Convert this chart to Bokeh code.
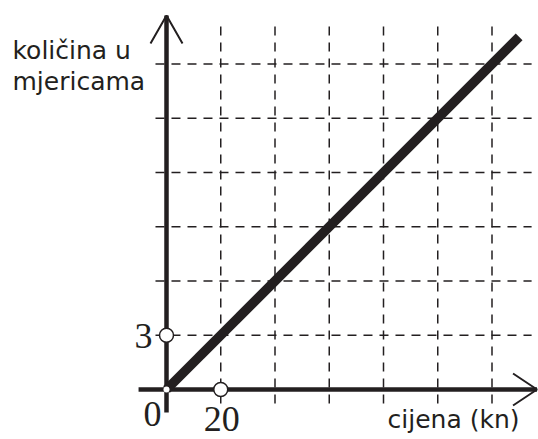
from bokeh.plotting import figure
from bokeh.models import Range1d, Label, GlobalInlineStyleSheet
from bokeh.core.properties import value
from bokeh.embed import file_html
from bokeh.resources import INLINE

# ---- data ----
price = [0, 130]            # cijena (kn)
quantity = [0, 19.5]        # količina u mjericama
grid_x = [20, 40, 60, 80, 100, 120]
grid_y = [3, 6, 9, 12, 15, 18]
marked_x = [20, 0]
marked_y = [0, 3]
tick_labels = ["0", "20", "3"]
tick_x = [0, 20, 0]
tick_y = [0, 0, 3]

# axis extents (data units)
x_axis_min, x_axis_max = -10.3, 136.6
y_axis_min, y_axis_max = -1.27, 20.68
hgrid_min, hgrid_max = -4.06, 134.6
vgrid_min, vgrid_max = -0.77, 20.24

W, H = 538, 439
px_x = 54.25 / 20.0   # pixels per unit x
px_y = 54.25 / 3.0    # pixels per unit y
ox, oy = 166, 389     # origin in canvas pixels (top-left based)

x_start = -ox / px_x
x_end = x_start + W / px_x
y_end = oy / px_y
y_start = -(H - oy) / px_y

INK = "#231f20"

p = figure(width=W, height=H, output_backend="svg", toolbar_location=None,
           x_range=Range1d(x_start, x_end), y_range=Range1d(y_start, y_end),
           min_border=0)
p.stylesheets = [GlobalInlineStyleSheet(css="html, body { margin: 0; padding: 0; overflow: hidden; }")]
p.axis.visible = False
p.grid.visible = False
p.outline_line_color = None
p.background_fill_color = "white"
p.border_fill_color = "white"

# dashed grid
p.segment(x0=grid_x, y0=[vgrid_min] * len(grid_x), x1=grid_x, y1=[vgrid_max] * len(grid_x),
          line_color=INK, line_width=1.5, line_dash="9 7")
p.segment(x0=[hgrid_min] * len(grid_y), y0=grid_y, x1=[hgrid_max] * len(grid_y), y1=grid_y,
          line_color=INK, line_width=1.5, line_dash="9 7")

# axes
p.segment(x0=[x_axis_min], y0=[0], x1=[x_axis_max], y1=[0], line_color=INK, line_width=4.5)
p.segment(x0=[0], y0=[y_axis_min], x1=[0], y1=[y_axis_max], line_color=INK, line_width=4.5)

# arrowheads (open V)
back_px, half_px = 28, 16
ya_back = back_px / px_y
ya_half = half_px / px_x
xa_back = (back_px - 4) / px_x
xa_half = half_px / px_y
p.multi_line(xs=[[-ya_half, 0, ya_half]], ys=[[y_axis_max - ya_back, y_axis_max, y_axis_max - ya_back]],
             line_color=INK, line_width=2)
p.multi_line(xs=[[x_axis_max - xa_back, x_axis_max, x_axis_max - xa_back]], ys=[[xa_half, 0, -xa_half]],
             line_color=INK, line_width=2)

# data line
p.line(price, quantity, line_color=INK, line_width=9.5, line_cap="butt")

# marked points
p.scatter(marked_x, marked_y, size=14, fill_color="white", line_color=INK, line_width=1.5)
p.scatter([price[0]], [quantity[0]], size=6, fill_color="white", line_color=None)

# tick labels
serif = value("Liberation Serif")
for i, (dx, dy, align) in enumerate([(-14, 24, "center"), (1, 29, "center"), (-14, 1, "right")]):
    p.text(x=[tick_x[i]], y=[tick_y[i]], text=[tick_labels[i]], x_offset=dx, y_offset=dy,
           text_align=align, text_baseline="alphabetic", text_font=serif,
           text_font_size="36px", text_color=INK)

# axis titles
sans = "DejaVu Sans"
for txt, sx, sy, align in [("količina u", 12, H - 50, "left"),
                           ("mjericama", 12, H - 81, "left"),
                           ("cijena (kn)", 519, H - 419, "right")]:
    p.add_layout(Label(x=sx, y=sy, x_units="screen", y_units="screen", text=txt,
                       text_font=sans, text_font_size="25px", text_color=INK,
                       text_align=align, text_baseline="alphabetic"))

open("out.html", "w").write(file_html(p, INLINE))
